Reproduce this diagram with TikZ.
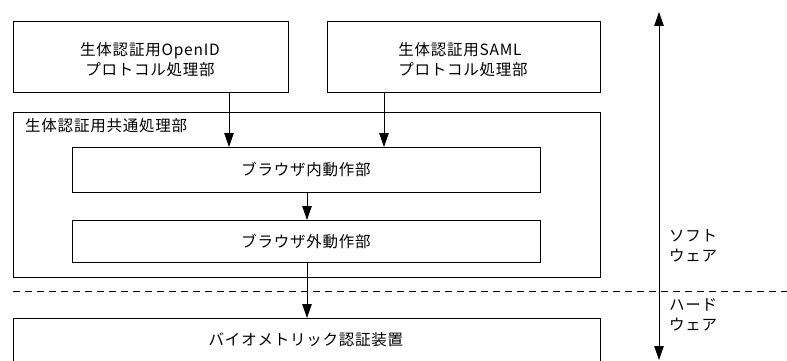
\documentclass[tikz,border=0pt]{standalone}
\usepackage{fontspec}
\setmainfont{Noto Sans CJK JP}[LetterSpace=5]
\usetikzlibrary{arrows.meta}
\begin{document}
\begin{tikzpicture}[x=1pt,y=-1pt,
  box/.style={draw,line width=0.9pt},
  lbl/.style={font=\fontsize{15.5}{20}\selectfont,inner sep=0pt,align=center},
  tip/.tip={Triangle[length=14pt,width=9.5pt]},
  arr/.style={line width=0.9pt,-tip}]
\clip (0,0) rectangle (787,361);
\fill[white] (0,0) rectangle (787,361);
% boxes
\node[box,minimum width=275pt,minimum height=71pt,anchor=north west] (oid) at (13,21) {};
\node[box,minimum width=273pt,minimum height=71pt,anchor=north west] (saml) at (327,21) {};
\node[box,minimum width=587pt,minimum height=165pt,anchor=north west] (common) at (13,112) {};
\node[box,minimum width=468pt,minimum height=45pt,anchor=north west] (inner) at (72,147) {};
\node[box,minimum width=468pt,minimum height=42pt,anchor=north west] (outer) at (72,220) {};
\node[box,minimum width=587pt,minimum height=60pt,anchor=north west] (bio) at (13,318) {};
% texts
\node[lbl] (toid) at (150,60) {生体認証用OpenID\\プロトコル処理部};
\node[lbl,align=left] (tsaml) at (463,60) {生体認証用SAML\\プロトコル処理部};
\node[lbl,anchor=west] (tcommon) at (25,126) {生体認証用共通処理部};
\node[lbl] (tinner) at (306,170) {ブラウザ内動作部};
\node[lbl] (touter) at (306,242) {ブラウザ外動作部};
\node[lbl] (tbio) at (306,340) {バイオメトリック認証装置};
\node[lbl,anchor=west,align=left] (tsoft) at (669,246) {ソフト\\ウェア};
\node[lbl,anchor=west,align=left] (thard) at (669,315) {ハード\\ウェア};
% dashed separator
\coordinate (dl) at (13,291);
\coordinate (dr) at (787,291);
\draw[line width=0.9pt,dash pattern=on 7pt off 5pt] (dl) -- (dr);
% connectors
\draw[arr] (oid.south -| 229,0) -- (inner.north -| 229,0);
\draw[arr] (saml.south -| 384,0) -- (inner.north -| 384,0);
\draw[arr] (inner.south -| 307,0) -- (outer.north -| 307,0);
\draw[arr] (outer.south -| 307,0) -- (bio.north -| 307,0);
% vertical double arrow
\coordinate (vt) at (659,12);
\coordinate (vb) at (659,360);
\draw[line width=0.9pt,tip-tip] (vt) -- (vb);
\end{tikzpicture}
\end{document}
